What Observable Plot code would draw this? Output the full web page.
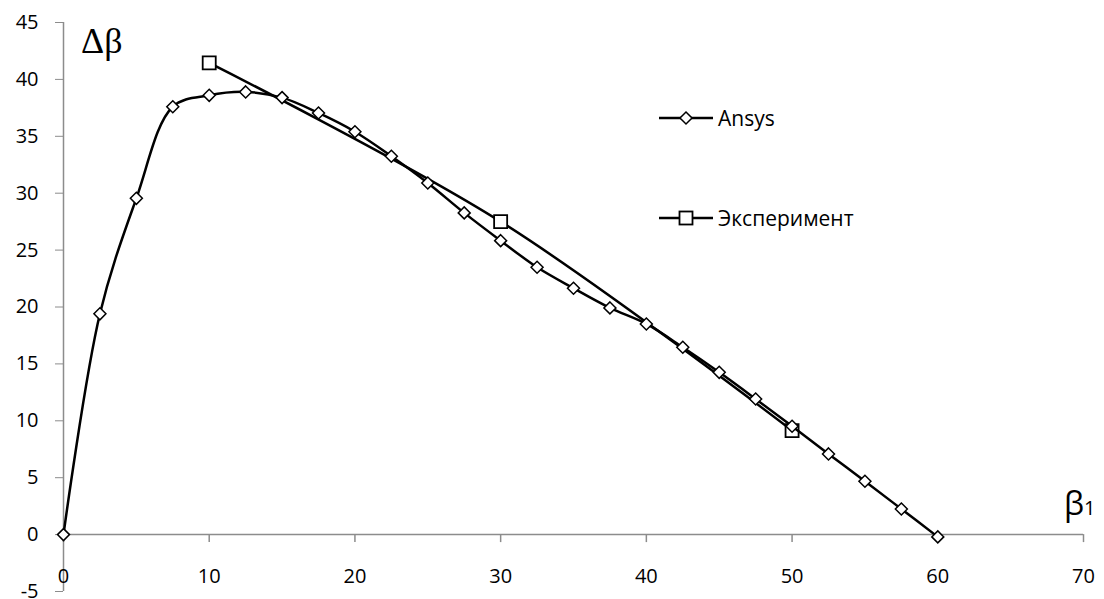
<!DOCTYPE html>
<html>
<head>
<meta charset="utf-8">
<script src="https://cdn.jsdelivr.net/npm/d3@7"></script>
<script src="https://cdn.jsdelivr.net/npm/@observablehq/plot@0.6"></script>
<style>
  html, body { margin: 0; padding: 0; background: #fff; }
  #wrap { position: relative; width: 1104px; height: 599px; font-family: "Open Sans", sans-serif; }
  #overlay { position: absolute; left: 0; top: 0; pointer-events: none; }
</style>
</head>
<body>
<div id="wrap"></div>
<script>
// ---- data ----
const ansysX = [0, 2.5, 5, 7.5, 10, 12.5, 15, 17.5, 20, 22.5, 25, 27.5, 30, 32.5, 35, 37.5, 40, 42.5, 45, 47.5, 50, 52.5, 55, 57.5, 60];
const ansysY = [0, 19.4, 29.55, 37.6, 38.6, 38.9, 38.4, 37.05, 35.4, 33.25, 30.9, 28.27, 25.83, 23.49, 21.65, 19.92, 18.51, 16.46, 14.26, 11.92, 9.52, 7.09, 4.69, 2.25, -0.2];
const expX = [10, 30, 50];
const expY = [41.45, 27.5, 9.14];
const xTicks = [0, 10, 20, 30, 40, 50, 60, 70];
const yTicks = [-5, 0, 5, 10, 15, 20, 25, 30, 35, 40, 45];
const seriesNames = ["Ansys", "Эксперимент"];

const ansys = ansysX.map((x, i) => ({x, y: ansysY[i]}));
const exp = expX.map((x, i) => ({x, y: expY[i]}));

const axisGray = "#8c8c8c";

const chart = Plot.plot({
  width: 1104,
  height: 599,
  marginLeft: 63,
  marginRight: 21,
  marginTop: 22,
  marginBottom: 8,
  style: {fontFamily: "'Open Sans', sans-serif", fontSize: "20px", color: "black", background: "white"},
  x: {domain: [0, 70], axis: null},
  y: {domain: [-5, 45]},
  marks: [
    Plot.axisY(yTicks, {tickSize: 8, tickPadding: 17, stroke: axisGray, fill: "black", fontSize: 20, label: null, tickFormat: d => String(d)}),
    Plot.ruleX([0], {stroke: axisGray, strokeWidth: 1.5}),
    Plot.ruleY([0], {stroke: axisGray, strokeWidth: 1.5}),
    Plot.ruleX(xTicks, {x: d => d, y1: 0, y2: 0, insetBottom: -8, stroke: axisGray, strokeWidth: 1.5}),
    Plot.text(xTicks, {x: d => d, y: 0, dy: 42, text: d => String(d), fill: "black", fontSize: 20}),
    Plot.line(exp, {x: "x", y: "y", curve: "catmull-rom", stroke: "black", strokeWidth: 2.5}),
    Plot.dot(exp, {x: "x", y: "y", symbol: "square2", r: 8.3, stroke: "black", strokeWidth: 1.8, fill: "white"}),
    Plot.line(ansys, {x: "x", y: "y", curve: "catmull-rom", stroke: "black", strokeWidth: 2.5}),
    Plot.dot(ansys, {x: "x", y: "y", symbol: "diamond2", r: 5.4, stroke: "black", strokeWidth: 1.5, fill: "white"})
  ]
});
document.getElementById("wrap").appendChild(chart);

// overlay: legend and axis titles (real text)
const ov = d3.select("#wrap").append("svg")
  .attr("id", "overlay").attr("width", 1104).attr("height", 599);

// axis titles
ov.append("text").attr("x", 81).attr("y", 53)
  .attr("font-family", "'Liberation Serif', 'DejaVu Serif', serif").attr("font-size", 36)
  .text("Δβ");
const b1 = ov.append("text").attr("x", 1064).attr("y", 515)
  .attr("font-family", "'Open Sans', sans-serif").attr("font-size", 32);
b1.append("tspan").text("β");
b1.append("tspan").attr("font-size", 20).text("1");

// legend
const legendRows = [118, 218];
seriesNames.forEach((name, i) => {
  const y = legendRows[i];
  ov.append("line").attr("x1", 659).attr("x2", 713).attr("y1", y).attr("y2", y)
    .attr("stroke", "black").attr("stroke-width", 2.5);
  if (i === 0) {
    ov.append("path").attr("d", `M686,${y - 6}L692,${y}L686,${y + 6}L680,${y}Z`)
      .attr("fill", "white").attr("stroke", "black").attr("stroke-width", 1.5);
  } else {
    ov.append("rect").attr("x", 679.5).attr("y", y - 6.5).attr("width", 13).attr("height", 13)
      .attr("fill", "white").attr("stroke", "black").attr("stroke-width", 1.8);
  }
  ov.append("text").attr("x", 718).attr("y", y).attr("dy", "0.36em")
    .attr("font-family", "'Open Sans', sans-serif").attr("font-size", 21)
    .text(name);
});
</script>
</body>
</html>
